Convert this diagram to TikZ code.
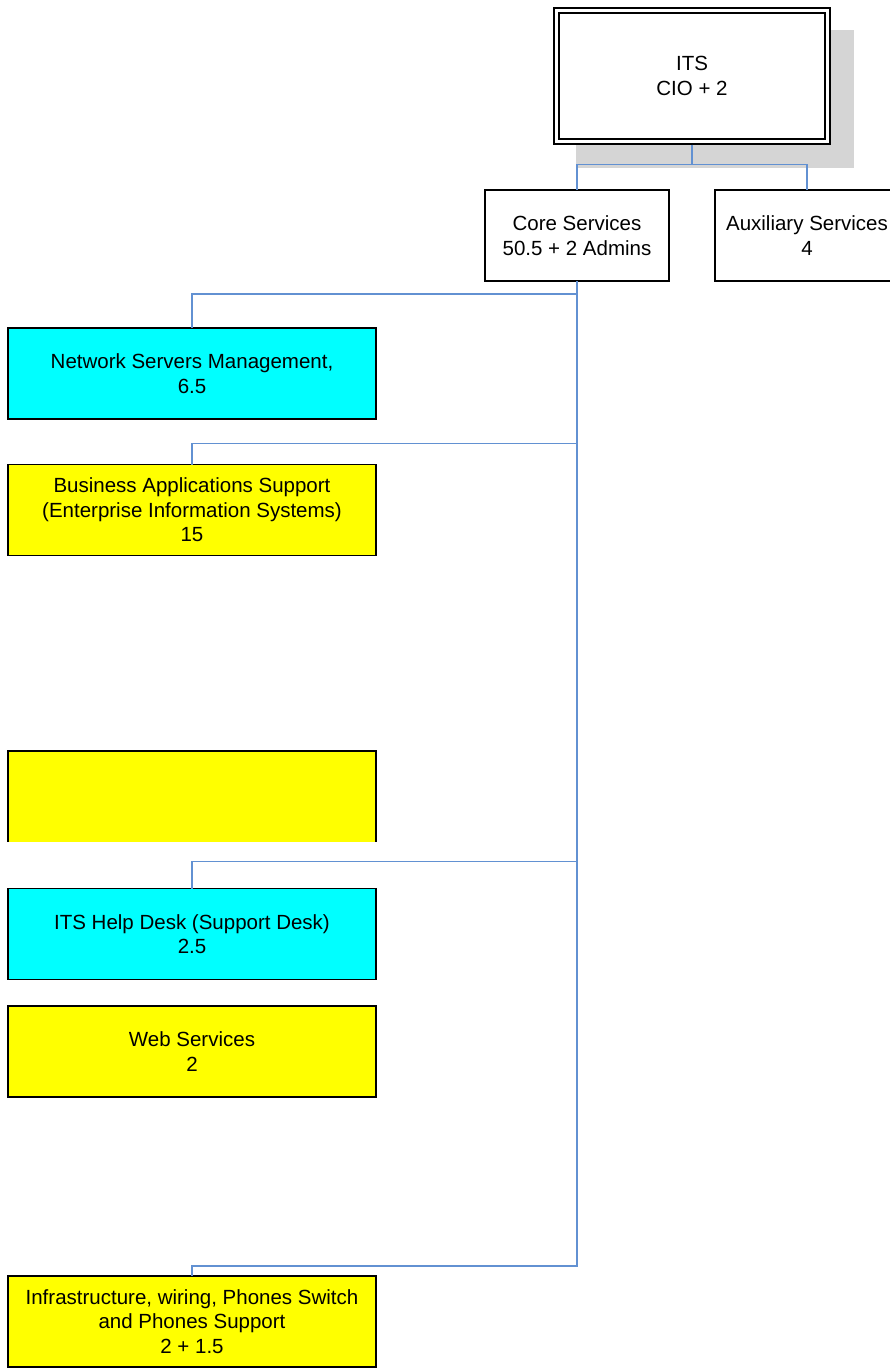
\documentclass[tikz,border=0pt]{standalone}
\usepackage{fontspec}
\setmainfont{Liberation Sans}
\begin{document}
\begin{tikzpicture}[x=1pt,y=-1pt,
  box/.style={draw=black, line width=1.7pt, inner sep=0pt, outer sep=0pt, align=center,
    font=\fontsize{20.5}{24.5}\selectfont},
  leftbox/.style={box, minimum width=368pt, minimum height=91pt},
  cyanbox/.style={leftbox, fill=boxcyan},
  yellowbox/.style={leftbox, fill=boxyellow},
  whitebox/.style={box, fill=white, minimum width=184pt, minimum height=91pt},
  conn/.style={draw=connblue, line width=1.5pt},
]
\definecolor{boxcyan}{RGB}{0,255,255}
\definecolor{boxyellow}{RGB}{255,255,0}
\definecolor{connblue}{RGB}{98,145,210}
\definecolor{shadowgray}{RGB}{213,213,213}
\useasboundingbox (0,0) rectangle (890,1368);
\clip (0,0) rectangle (890,1368);

% shadow of top box
\fill[shadowgray] (576,30) rectangle (854,168);
% top box
\node[box, fill=white, double, double distance=3pt, line width=1.6pt,
      minimum width=271pt, minimum height=131pt] (its) at (692,76) {ITS\\CIO + 2};

\node[whitebox] (core) at (577,235.5) {Core Services\\50.5 + 2 Admins};
\node[whitebox] (aux) at (807,235.5) {Auxiliary Services\\4};

\node[cyanbox] (nsm) at (192,373.5) {Network Servers Management,\\6.5};
\node[yellowbox] (bas) at (192,510) {Business Applications Support\\(Enterprise Information Systems)\\15};
\node[fill=boxyellow, inner sep=0pt, outer sep=0pt, minimum width=368pt, minimum height=91pt] (blank) at (192,796.5) {};
\draw[black, line width=1.7pt] (blank.south west) -- (blank.north west) -- (blank.north east) -- (blank.south east);
\node[cyanbox] (help) at (192,934) {ITS Help Desk (Support Desk)\\2.5};
\node[yellowbox] (web) at (192,1051.5) {Web Services\\2};
\node[yellowbox] (infra) at (192,1321.5) {Infrastructure, wiring, Phones Switch\\and Phones Support\\2 + 1.5};

% connectors
\draw[conn] (its.south) ++(0,3) -- ++(0,20) coordinate (bar);
\draw[conn] (core.north) |- (bar);
\draw[conn] (aux.north) |- (bar);
\draw[conn] (nsm.north) -- ++(0,-34) -| (core.south);
\draw[conn] (bas.north) -- ++(0,-21) -| (core.south);
\draw[conn] (help.north) -- ++(0,-27) -| (core.south);
\draw[conn] (infra.north) -- ++(0,-10) -| (core.south);
\end{tikzpicture}
\end{document}
